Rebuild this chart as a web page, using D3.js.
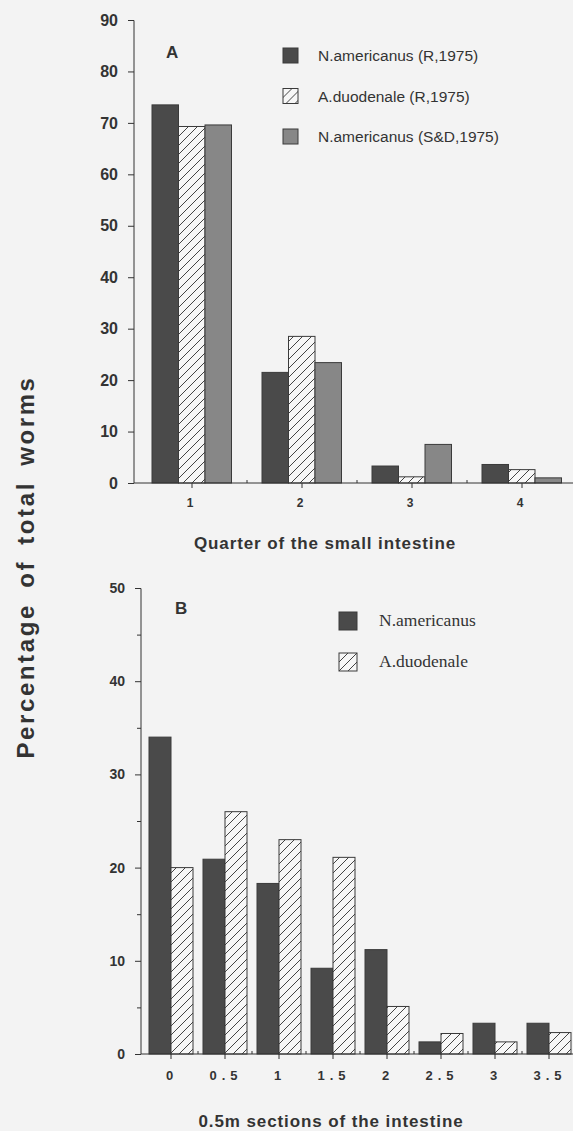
<!DOCTYPE html>
<html>
<head>
<meta charset="utf-8">
<script src="https://cdn.jsdelivr.net/npm/d3@7"></script>
<style>
  html, body { margin: 0; padding: 0; background: #f3f3f3; }
  svg { display: block; }
  text { font-family: "Liberation Sans", Arial, sans-serif; fill: #333; }
</style>
</head>
<body>
<svg id="chart" width="573" height="1131"></svg>
<script>
// panel A data
var quartersA = ["1", "2", "3", "4"];
var namR = [73.5, 21.5, 3.3, 3.6];
var aduR = [69.3, 28.5, 1.2, 2.6];
var namSD = [69.6, 23.4, 7.5, 1.0];
var seriesA = ["N.americanus (R,1975)", "A.duodenale (R,1975)", "N.americanus (S&D,1975)"];
var ticksA = [0, 10, 20, 30, 40, 50, 60, 70, 80, 90];

// panel B data
var sectionsB = ["0", "0.5", "1", "1.5", "2", "2.5", "3", "3.5"];
var namB = [34, 20.9, 18.3, 9.2, 11.2, 1.3, 3.3, 3.3];
var aduB = [20, 26, 23, 21.1, 5.1, 2.2, 1.3, 2.3];
var seriesB = ["N.americanus", "A.duodenale"];
var ticksB = [0, 10, 20, 30, 40, 50];

var svg = d3.select("#chart");
var ink = "#333";
var fills = ["#4a4a4a", "url(#hatch)", "#878787"];

// hatch pattern
var defs = svg.append("defs");
var pat = defs.append("pattern")
    .attr("id", "hatch")
    .attr("patternUnits", "userSpaceOnUse")
    .attr("width", 9).attr("height", 9);
pat.append("rect").attr("width", 9).attr("height", 9).attr("fill", "#f7f7f7");
pat.append("path")
    .attr("d", "M-1,1 l2,-2 M0,9 l9,-9 M8,10 l2,-2")
    .attr("stroke", "#444").attr("stroke-width", 1);

// ---------- Panel A ----------
var xA = d3.scaleBand().domain(quartersA).range([137, 577]).paddingInner(0);
var yA = d3.scaleLinear().domain([0, 90]).range([483, 20]);
var bw = 26.5, groupOff = 15;

var gA = svg.append("g");
[namR, aduR, namSD].forEach(function (vals, s) {
    gA.selectAll(".barA" + s)
        .data(vals)
        .enter()
        .append("rect")
        .attr("x", function (d, i) { return xA(quartersA[i]) + groupOff + s * bw; })
        .attr("y", function (d) { return yA(d); })
        .attr("width", bw)
        .attr("height", function (d) { return yA(0) - yA(d); })
        .attr("fill", fills[s])
        .attr("stroke", "#3a3a3a")
        .attr("stroke-width", 1);
});

// y axis A
var axA = d3.axisLeft(yA).tickValues(ticksA).tickSize(6).tickPadding(10);
gA.append("g")
    .attr("transform", "translate(134,0)")
    .call(axA)
    .call(function (g) {
        g.select(".domain").attr("stroke", ink).attr("d", "M-6,20.5H0V483");
        g.selectAll(".tick line").attr("stroke", ink);
        g.selectAll(".tick text")
            .style("font-size", "16px").style("font-weight", "bold")
            .attr("fill", ink);
    });

// x axis A
var gxA = gA.append("g").attr("transform", "translate(0,483)");
gxA.append("line").attr("x1", 134).attr("x2", 573).attr("stroke", ink);
gxA.selectAll(".tc").data(quartersA).enter().append("line")
    .attr("x1", function (d) { return xA(d) + xA.bandwidth() / 2; })
    .attr("x2", function (d) { return xA(d) + xA.bandwidth() / 2; })
    .attr("y1", 0).attr("y2", 5).attr("stroke", ink);
gxA.selectAll(".tb").data(quartersA.slice(1)).enter().append("line")
    .attr("x1", function (d) { return xA(d); })
    .attr("x2", function (d) { return xA(d); })
    .attr("y1", -3).attr("y2", 0).attr("stroke", ink);
gxA.selectAll(".tl").data(quartersA).enter().append("text")
    .attr("x", function (d) { return xA(d) + xA.bandwidth() / 2 - 2; })
    .attr("y", 24)
    .attr("text-anchor", "middle")
    .style("font-size", "12px").style("font-weight", "bold")
    .text(function (d) { return d; });

gA.append("text")
    .attr("x", 325).attr("y", 549)
    .attr("text-anchor", "middle")
    .style("font-size", "17px").style("font-weight", "bold")
    .style("letter-spacing", "0.9px")
    .text("Quarter of the small intestine");

gA.append("text")
    .attr("x", 166).attr("y", 58)
    .style("font-size", "17px").style("font-weight", "bold")
    .text("A");

// legend A
var legA = gA.selectAll(".legA").data(seriesA).enter().append("g")
    .attr("transform", function (d, i) { return "translate(283," + (48 + i * 40.5) + ")"; });
legA.append("rect")
    .attr("width", 15).attr("height", 15)
    .attr("fill", function (d, i) { return fills[i]; })
    .attr("stroke", "#3a3a3a");
legA.append("text")
    .attr("x", 35).attr("y", 13)
    .style("font-size", "15.5px")
    .text(function (d) { return d; });

// ---------- Panel B ----------
var xB = d3.scaleBand().domain(sectionsB).range([144, 576]).paddingInner(0);
var yB = d3.scaleLinear().domain([0, 50]).range([1054, 588]);
var bwB = 22;

var gB = svg.append("g");
[namB, aduB].forEach(function (vals, s) {
    gB.selectAll(".barB" + s)
        .data(vals)
        .enter()
        .append("rect")
        .attr("x", function (d, i) { return xB(sectionsB[i]) + xB.bandwidth() / 2 - bwB + s * bwB; })
        .attr("y", function (d) { return yB(d); })
        .attr("width", bwB)
        .attr("height", function (d) { return yB(0) - yB(d); })
        .attr("fill", fills[s])
        .attr("stroke", "#3a3a3a")
        .attr("stroke-width", 1);
});

// y axis B
var axB = d3.axisLeft(yB).tickValues(ticksB).tickSize(6).tickPadding(10);
gB.append("g")
    .attr("transform", "translate(141,0)")
    .call(axB)
    .call(function (g) {
        g.select(".domain").attr("stroke", ink).attr("d", "M-6,588.5H0V1054");
        g.selectAll(".tick line").attr("stroke", ink);
        g.selectAll(".tick text")
            .style("font-size", "14px").style("font-weight", "bold")
            .attr("fill", ink);
    });
gB.append("g")
    .attr("transform", "translate(141,0)")
    .call(d3.axisLeft(yB).tickValues([5, 15, 25, 35, 45]).tickSize(4).tickFormat(""))
    .call(function (g) {
        g.select(".domain").remove();
        g.selectAll(".tick line").attr("stroke", ink);
    });

// x axis B
var gxB = gB.append("g").attr("transform", "translate(0,1054)");
gxB.append("line").attr("x1", 141).attr("x2", 573).attr("stroke", ink);
gxB.selectAll(".tc").data(sectionsB).enter().append("line")
    .attr("x1", function (d) { return xB(d) + xB.bandwidth() / 2; })
    .attr("x2", function (d) { return xB(d) + xB.bandwidth() / 2; })
    .attr("y1", 0).attr("y2", 5).attr("stroke", ink);
gxB.selectAll(".tb").data(sectionsB.slice(1)).enter().append("line")
    .attr("x1", function (d) { return xB(d); })
    .attr("x2", function (d) { return xB(d); })
    .attr("y1", -3).attr("y2", 0).attr("stroke", ink);
gxB.selectAll(".tl").data(sectionsB).enter().append("text")
    .attr("x", function (d) { return xB(d) + xB.bandwidth() / 2 + 1; })
    .attr("y", 26)
    .attr("text-anchor", "middle")
    .style("font-size", "13px").style("font-weight", "bold")
    .style("letter-spacing", "5px")
    .text(function (d) { return d; });

gB.append("text")
    .attr("x", 331).attr("y", 1127)
    .attr("text-anchor", "middle")
    .style("font-size", "17px").style("font-weight", "bold")
    .style("letter-spacing", "0.9px")
    .text("0.5m sections of the intestine");

gB.append("text")
    .attr("x", 175).attr("y", 614)
    .style("font-size", "17px").style("font-weight", "bold")
    .text("B");

// legend B
var legB = gB.selectAll(".legB").data(seriesB).enter().append("g")
    .attr("transform", function (d, i) { return "translate(339," + (612 + i * 41) + ")"; });
legB.append("rect")
    .attr("width", 18).attr("height", 18)
    .attr("fill", function (d, i) { return fills[i]; })
    .attr("stroke", "#3a3a3a");
legB.append("text")
    .attr("x", 40).attr("y", 14)
    .style("font-family", "'Liberation Serif', 'Times New Roman', serif")
    .style("font-size", "17.5px")
    .text(function (d) { return d; });

// shared y label
svg.append("text")
    .attr("transform", "translate(34,567) rotate(-90)")
    .attr("text-anchor", "middle")
    .style("font-size", "24px").style("font-weight", "bold")
    .style("letter-spacing", "2.6px")
    .style("word-spacing", "6px")
    .text("Percentage of total worms");
</script>
</body>
</html>
